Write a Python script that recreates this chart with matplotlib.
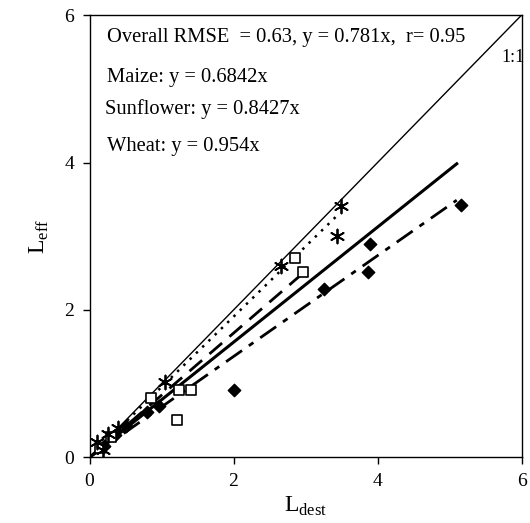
import matplotlib
matplotlib.use('Agg')
import matplotlib.pyplot as plt
import numpy as np

plt.rcParams['font.family'] = ['Liberation Serif', 'DejaVu Serif']

# measured points (L_dest, L_eff)
maize_x = [0.2, 0.35, 0.5, 0.8, 0.97, 2.01, 3.26, 3.87, 3.9, 5.16]
maize_y = [0.15, 0.3, 0.42, 0.62, 0.7, 0.91, 2.29, 2.51, 2.89, 3.42]
sun_x = [0.15, 0.3, 0.86, 1.21, 1.24, 1.41, 2.86, 2.96]
sun_y = [0.12, 0.28, 0.81, 0.51, 0.92, 0.92, 2.71, 2.52]
wheat_x = [0.11, 0.18, 0.25, 0.4, 1.05, 2.66, 3.43, 3.49]
wheat_y = [0.21, 0.1, 0.32, 0.4, 1.02, 2.59, 3.0, 3.41]

# regression slopes and line extents
slope_all, xmax_all = 0.781, 5.1
slope_maize, xmax_maize = 0.6842, 5.1
slope_sun, xmax_sun = 0.8427, 2.96
slope_wheat, xmax_wheat = 0.954, 3.47

fig = plt.figure(figsize=(5.3, 5.23), dpi=100)
ax = fig.add_axes([0.169, 0.1256, 0.815, 0.8454])

ax.plot([0, 6], [0, 6], color='black', lw=1)
ax.plot([0, xmax_all], [0, slope_all * xmax_all], color='black', lw=2.2)
ax.plot([0, xmax_maize], [0, slope_maize * xmax_maize], color='black', lw=2,
        dashes=(7, 3, 2, 3))
ax.plot([0, xmax_sun], [0, slope_sun * xmax_sun], color='black', lw=2,
        dashes=(6, 3.5))
ax.plot([0, xmax_wheat], [0, slope_wheat * xmax_wheat], color='black', lw=1.8,
        dashes=(1, 2.5))

ax.scatter(maize_x, maize_y, marker='D', s=40, color='black', zorder=3)
ax.scatter(sun_x, sun_y, marker='s', s=45, facecolor='white', edgecolor='black',
           linewidth=1.2, zorder=3)
ax.scatter(wheat_x, wheat_y, marker=(6, 2, 0), s=100, color='black',
           linewidth=1.3, zorder=3)

fs = 14.8
ax.text(0.24, 5.70, 'Overall RMSE  = 0.63, y = 0.781x,  r= 0.95', fontsize=fs, va='center')
ax.text(0.24, 5.16, 'Maize: y = 0.6842x', fontsize=fs, va='center')
ax.text(0.22, 4.73, 'Sunflower: y = 0.8427x', fontsize=fs, va='center')
ax.text(0.24, 4.22, 'Wheat: y = 0.954x', fontsize=fs, va='center')
ax.text(5.72, 5.43, '1:1', fontsize=13, va='center')

ax.set_xlim(0, 6)
ax.set_ylim(0, 6)
ax.set_xticks([0, 2, 4, 6])
ax.set_yticks([0, 2, 4, 6])
ax.tick_params(labelsize=14, direction='out', length=5, width=1, pad=6)
ax.set_xlabel(r'L$_{\mathregular{dest}}$', fontsize=17, labelpad=4)
ax.set_ylabel(r'L$_{\mathregular{eff}}$', fontsize=17, labelpad=10)
for s in ax.spines.values():
    s.set_linewidth(1)

fig.savefig('out.png', dpi=100)
